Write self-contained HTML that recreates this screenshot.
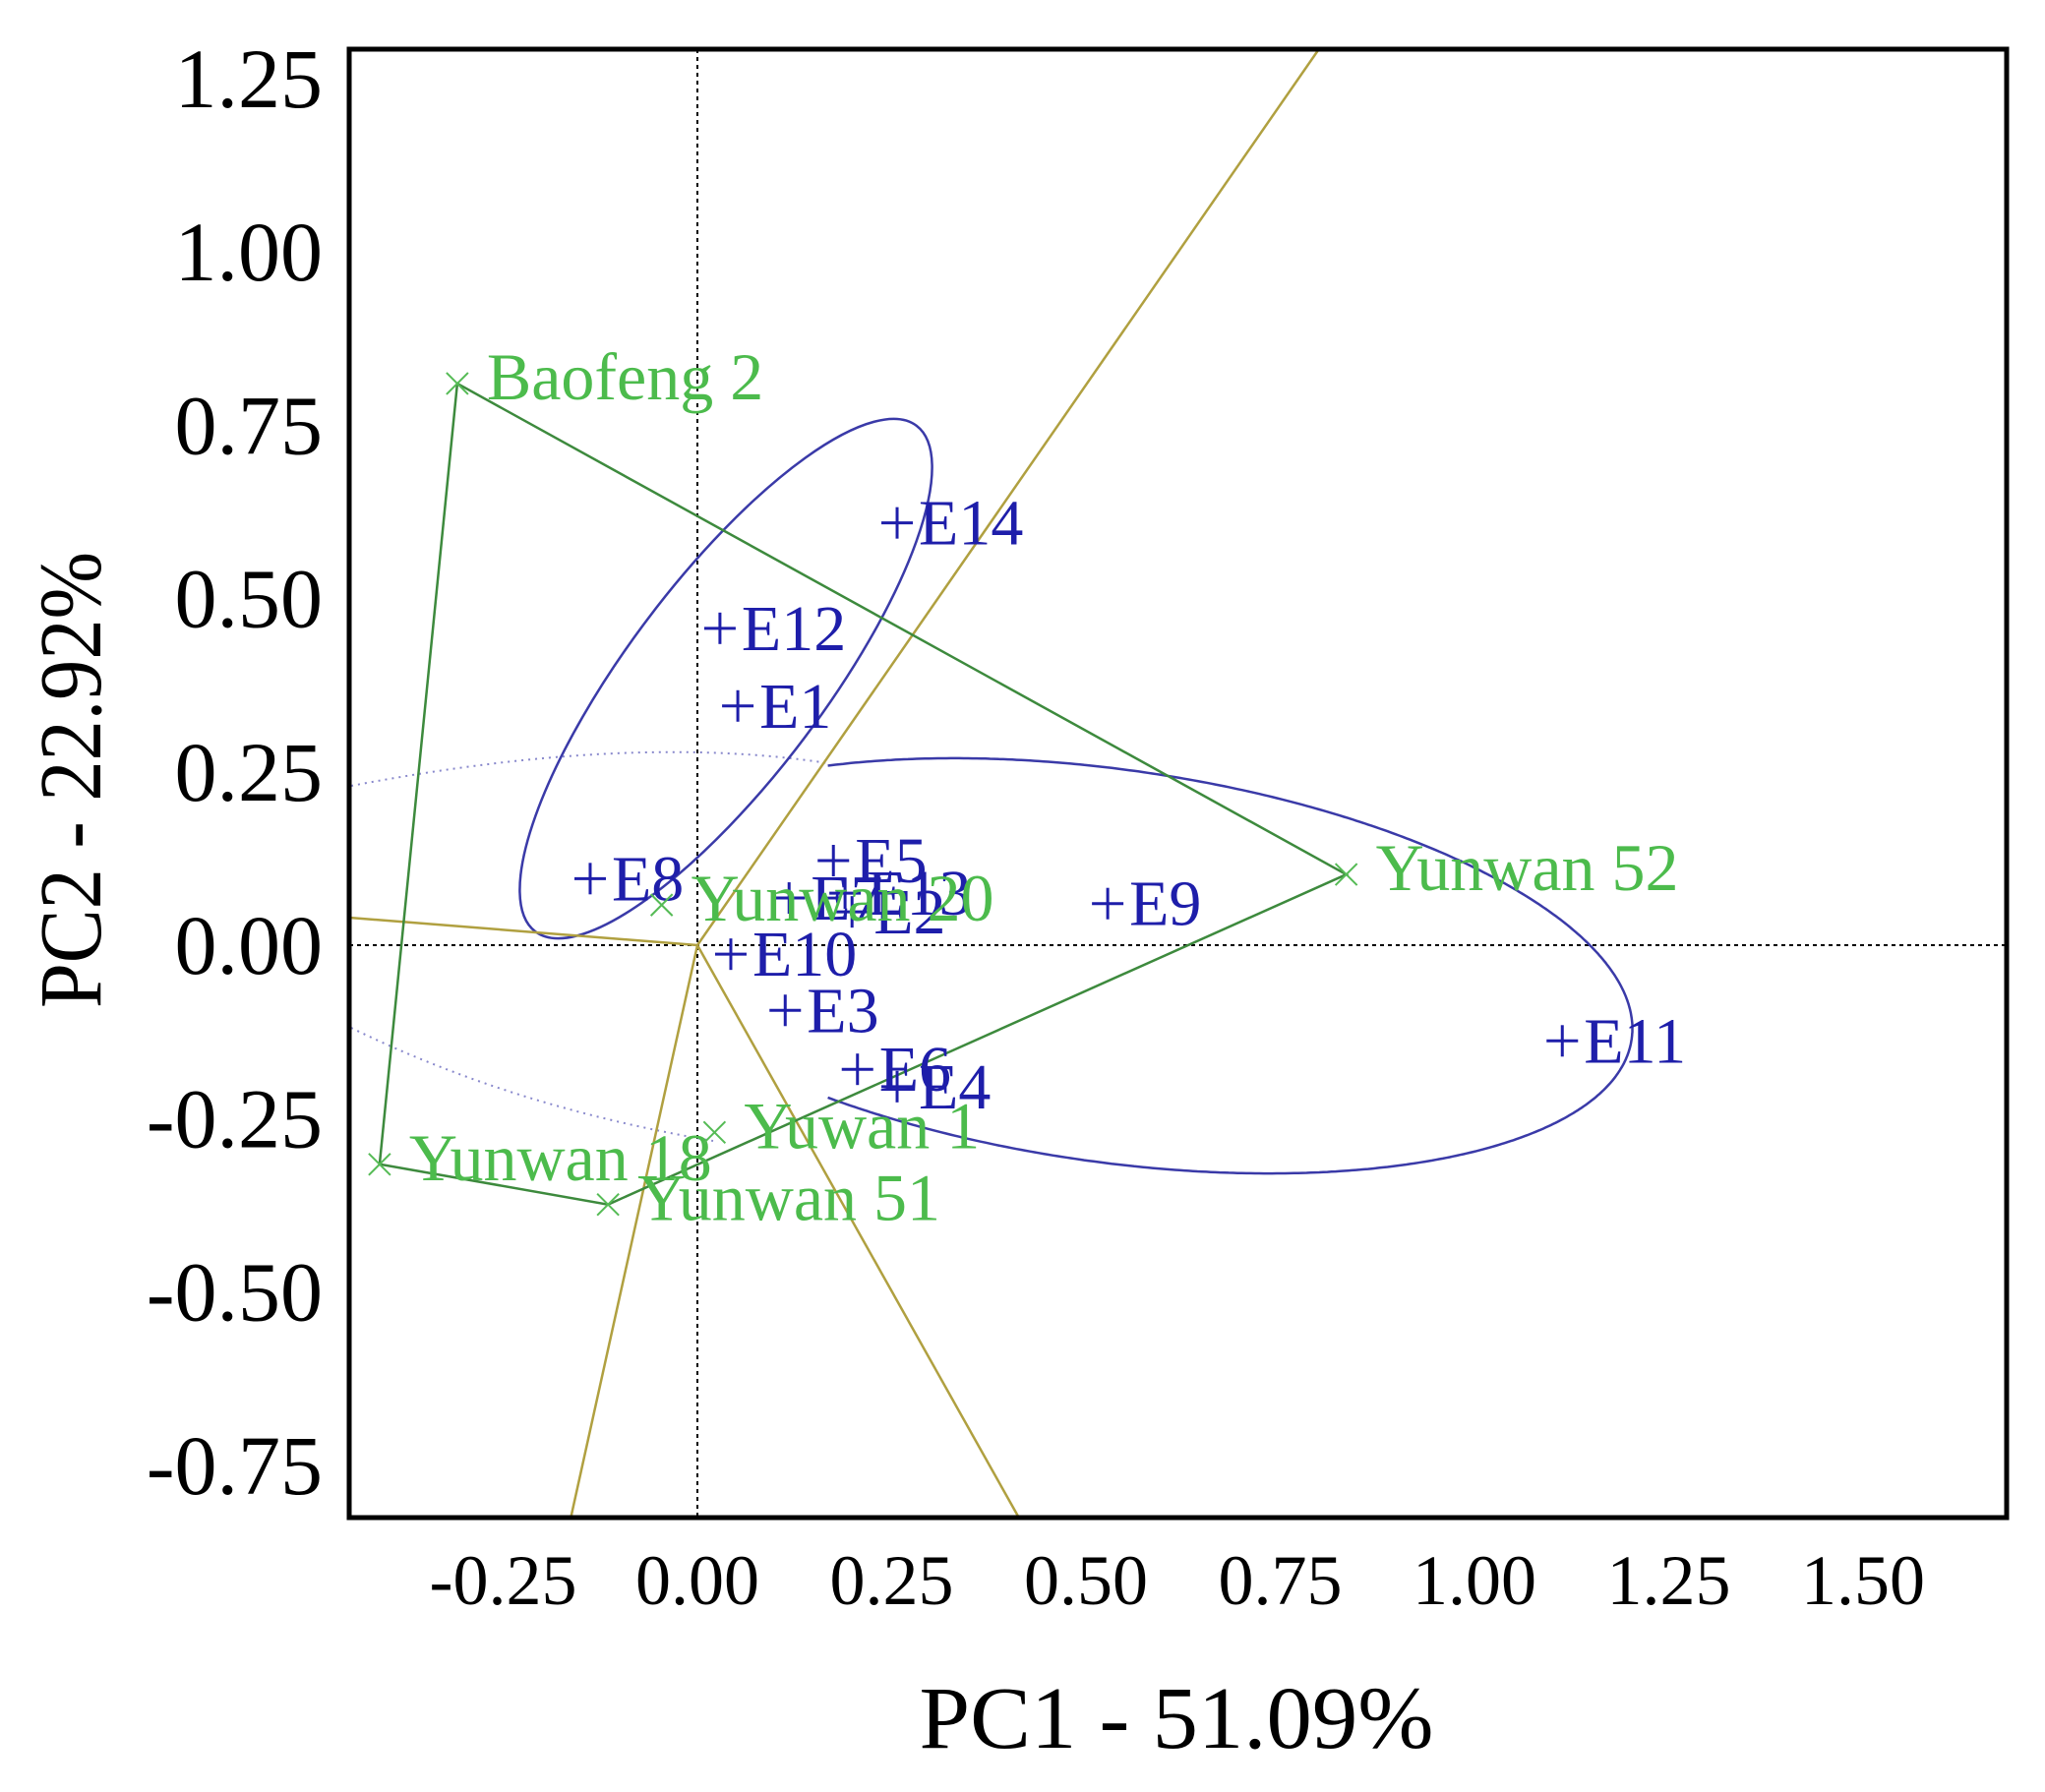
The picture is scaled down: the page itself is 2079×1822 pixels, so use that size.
<!DOCTYPE html>
<html><head><meta charset="utf-8"><title>GGE biplot</title>
<style>html,body{margin:0;padding:0;background:#fff;overflow:hidden;width:2079px;height:1822px;}svg{display:block;}</style></head>
<body>
<svg id="chart" xmlns="http://www.w3.org/2000/svg" width="2079" height="1822" viewBox="0 0 2079 1822" font-family="'Liberation Serif', serif">
<rect x="0" y="0" width="2079" height="1822" fill="#fff"/>
<defs><clipPath id="plotclip"><rect x="355" y="50" width="1685" height="1493"/></clipPath></defs>
<g id="plot" clip-path="url(#plotclip)"></g>
<rect x="355" y="50" width="1685" height="1493" fill="none" stroke="#000" stroke-width="5"/>
<g id="axes"></g>
<text x="1196" y="1777" font-size="90" text-anchor="middle" textLength="523" lengthAdjust="spacingAndGlyphs" fill="#000">PC1 - 51.09%</text>
<text transform="translate(102,793) rotate(-90)" font-size="90" text-anchor="middle" textLength="464" lengthAdjust="spacingAndGlyphs" fill="#000">PC2 - 22.92%</text>
</svg>
<script>
const xTicks = [-0.25, 0, 0.25, 0.5, 0.75, 1.0, 1.25, 1.5];
const xTickLabels = ["-0.25","0.00","0.25","0.50","0.75","1.00","1.25","1.50"];
const yTicks = [1.25, 1.0, 0.75, 0.5, 0.25, 0, -0.25, -0.5, -0.75];
const yTickLabels = ["1.25","1.00","0.75","0.50","0.25","0.00","-0.25","-0.50","-0.75"];
const envNames = ["E1","E2","E3","E4","E5","E6","E7","E8","E9","E10","E11","E12","E13","E14"];
const envPC1 = [0.052,0.199,0.113,0.257,0.175,0.206,0.118,-0.138,0.528,0.043,1.113,0.029,0.19,0.257];
const envPC2 = [0.345,0.048,-0.094,-0.204,0.122,-0.179,0.068,0.096,0.060,-0.013,-0.138,0.457,0.075,0.609];
const genNames = ["Baofeng 2","Yunwan 52","Yunwan 51","Yunwan 18","Yuwan 1","Yunwan 20"];
const genPC1 = [-0.309,0.835,-0.115,-0.409,0.022,-0.046];
const genPC2 = [0.810,0.102,-0.374,-0.316,-0.270,0.058];
const hullOrder = [0,1,2,3];

const X0 = 709, XS = 790, Y0 = 961, YS = 705;
const PL = 355, PR = 2040, PT = 50, PB = 1543;
const sx = v => X0 + v*XS;
const sy = v => Y0 - v*YS;
const NS = "http://www.w3.org/2000/svg";
const plot = document.getElementById('plot');
const axes = document.getElementById('axes');
function mk(tag, attrs, parent){const e=document.createElementNS(NS,tag);for(const k in attrs)e.setAttribute(k,attrs[k]);parent.appendChild(e);return e;}

xTicks.forEach((t,i)=>{
  const e=mk('text',{x:sx(t),y:1631,'font-size':72,'text-anchor':'middle',fill:'#000'},axes);
  e.textContent=xTickLabels[i];
  
  
});
yTicks.forEach((t,i)=>{
  const e=mk('text',{x:328,y:sy(t)+29,'font-size':86,'text-anchor':'end',fill:'#000'},axes);
  e.textContent=yTickLabels[i];
  
  
});

let a=mk('line',{x1:PL,y1:sy(0),x2:PR,y2:sy(0),stroke:'#000','stroke-width':2,'stroke-dasharray':'4 4'},plot);


a=mk('line',{x1:sx(0),y1:PT,x2:sx(0),y2:PB,stroke:'#000','stroke-width':2,'stroke-dasharray':'4 4'},plot);



let d=mk('path',{d:'M357,799 Q640,745 842,776',fill:'none',stroke:'#8888cc','stroke-width':2,'stroke-dasharray':'2 5'},plot);


d=mk('path',{d:'M357,1045 Q520,1125 725,1160',fill:'none',stroke:'#8888cc','stroke-width':2,'stroke-dasharray':'2 5'},plot);



let el=mk('ellipse',{cx:738,cy:690,rx:322,ry:100,transform:'rotate(-53 738 690)',fill:'none',stroke:'#3a3aa8','stroke-width':2.5},plot);


(function(){
  const cx=1130, cy=982, ra=534, rb=199.5, th=8*Math.PI/180;
  let pts=[];
  for(let i=0;i<=720;i++){
    const t=i/720*2*Math.PI;
    const ux=ra*Math.cos(t), uy=rb*Math.sin(t);
    const px=cx+ux*Math.cos(th)-uy*Math.sin(th), py=cy+ux*Math.sin(th)+uy*Math.cos(th);
    pts.push([px,py]);
  }
  let segs=[], cur=[];
  pts.forEach(p=>{ if(p[0]>=839){cur.push(p);} else { if(cur.length){segs.push(cur);cur=[];} } });
  if(cur.length)segs.push(cur);
  if(segs.length>1){ segs[0]=segs[segs.length-1].concat(segs[0]); segs.pop(); }
  segs.forEach(s=>{
    const p=mk('path',{d:'M'+s.map(q=>q[0].toFixed(1)+','+q[1].toFixed(1)).join(' L'),fill:'none',stroke:'#3a3aa8','stroke-width':2.5},plot);
    
    
  });
})();

for(let i=0;i<hullOrder.length;i++){
  const g1=hullOrder[i], g2=hullOrder[(i+1)%hullOrder.length];
  const dx=genPC1[g2]-genPC1[g1], dy=genPC2[g2]-genPC2[g1];
  let nx=dy, ny=-dx;
  const dot=nx*genPC1[g1]+ny*genPC2[g1];
  if(dot<0){nx=-nx;ny=-ny;}
  // pixel direction
  const px0=sx(0), py0=sy(0);
  const vx=nx*XS, vy=-ny*YS;
  let tmax=Infinity;
  if(vx>0) tmax=Math.min(tmax,(PR-px0)/vx);
  if(vx<0) tmax=Math.min(tmax,(PL-px0)/vx);
  if(vy>0) tmax=Math.min(tmax,(PB-py0)/vy);
  if(vy<0) tmax=Math.min(tmax,(PT-py0)/vy);
  const r=mk('line',{x1:px0,y1:py0,x2:px0+vx*tmax,y2:py0+vy*tmax,stroke:'#b0a040','stroke-width':2.5},plot);
  
  
}

const poly=mk('polygon',{points:hullOrder.map(g=>sx(genPC1[g])+','+sy(genPC2[g])).join(' '),fill:'none',stroke:'#3d8a3d','stroke-width':2.5},plot);



envNames.forEach((n,i)=>{
  const px=sx(envPC1[i]), py=sy(envPC2[i]);
  const g=mk('g',{},plot);
  
  
  mk('line',{x1:px-16,y1:py,x2:px+16,y2:py,stroke:'#1e1eaa','stroke-width':3},g);
  mk('line',{x1:px,y1:py-16,x2:px,y2:py+16,stroke:'#1e1eaa','stroke-width':3},g);
  const t=mk('text',{x:px+22,y:py+22,'font-size':66,fill:'#1e1eaa'},g);
  t.textContent=n;
});

genNames.forEach((n,i)=>{
  const px=sx(genPC1[i]), py=sy(genPC2[i]);
  const g=mk('g',{},plot);
  
  
  mk('line',{x1:px-11,y1:py-11,x2:px+11,y2:py+11,stroke:'#55bb55','stroke-width':2},g);
  mk('line',{x1:px-11,y1:py+11,x2:px+11,y2:py-11,stroke:'#55bb55','stroke-width':2},g);
  const t=mk('text',{x:px+30,y:py+16,'font-size':68,fill:'#4cbb4c'},g);
  t.textContent=n;
});
</script>
</body></html>
